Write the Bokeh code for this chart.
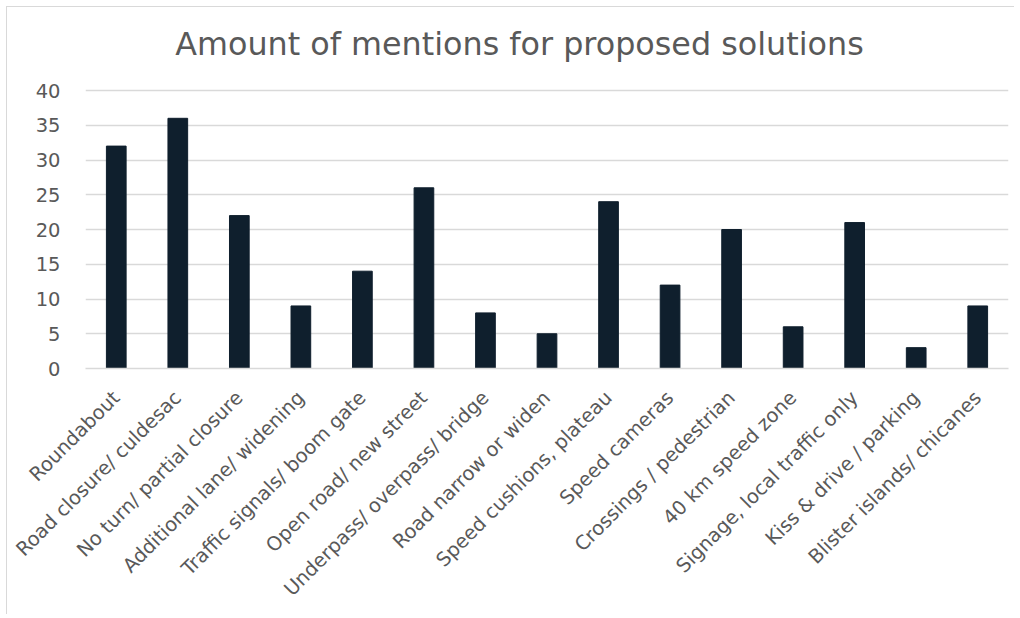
from bokeh.plotting import figure
from bokeh.models import Range1d, FixedTicker, Label
from bokeh.embed import file_html
from bokeh.resources import INLINE
import math

categories = [
    "Roundabout", "Road closure/ culdesac", "No turn/ partial closure",
    "Additional lane/ widening", "Traffic signals/ boom gate",
    "Open road/ new street", "Underpass/ overpass/ bridge",
    "Road narrow or widen", "Speed cushions, plateau", "Speed cameras",
    "Crossings / pedestrian", "40 km speed zone",
    "Signage, local traffic only", "Kiss & drive / parking",
    "Blister islands/ chicanes",
]
mentions = [32, 36, 22, 9, 14, 26, 8, 5, 24, 12, 20, 6, 21, 3, 9]
y_ticks = [0, 5, 10, 15, 20, 25, 30, 35, 40]
title_text = "Amount of mentions for proposed solutions"

FONT = "DejaVu Sans"
TXT = "#595959"

# layout: frame extends above the 40 gridline so the title can sit inside it
FRAME_H = 354          # px
AXIS_PX = 278          # px used by 0..40
Y_MAX = 40
y_end = Y_MAX * FRAME_H / AXIS_PX
px_per_unit = AXIS_PX / Y_MAX

p = figure(
    x_range=categories, y_range=Range1d(0, y_end),
    width=1008, height=608,
    output_backend="svg", toolbar_location=None,
    min_border_left=78, min_border_right=7, min_border_top=7,
    min_border_bottom=247,
)
p.vbar(x=categories, top=mentions, width=0.32, color="#0f1f2d")

# title placed about 325 px above the x axis, centred over the chart
title = Label(x=(518.5 - 85) / (922 / len(categories)), y=325 / px_per_unit,
              text=title_text, text_font=FONT, text_font_size="31.8px",
              text_color=TXT, text_align="center", text_baseline="alphabetic")
p.add_layout(title)

p.outline_line_color = None
p.xgrid.grid_line_color = None
p.ygrid.grid_line_color = "#d9d9d9"
p.ygrid.grid_line_width = 1.5

p.yaxis.ticker = FixedTicker(ticks=y_ticks)
p.yaxis.axis_line_color = None
p.yaxis.major_tick_line_color = None
p.yaxis.minor_tick_line_color = None
p.yaxis.major_label_text_font = FONT
p.yaxis.major_label_text_font_size = "19.5px"
p.yaxis.major_label_text_color = TXT
p.yaxis.major_label_standoff = 19

p.xaxis.axis_line_color = "#d9d9d9"
p.xaxis.axis_line_width = 1.5
p.xaxis.major_tick_line_color = None
p.xaxis.minor_tick_line_color = None
p.xaxis.major_label_orientation = math.pi / 4
p.xaxis.major_label_text_font = FONT
p.xaxis.major_label_text_font_size = "19.5px"
p.xaxis.major_label_text_color = TXT
p.xaxis.major_label_standoff = 20

p.styles = {"border-left": "1.5px solid #d9d9d9", "border-top": "1.5px solid #d9d9d9",
            "margin-left": "6px", "margin-top": "6px"}

open("out.html", "w").write(file_html(p, INLINE))
